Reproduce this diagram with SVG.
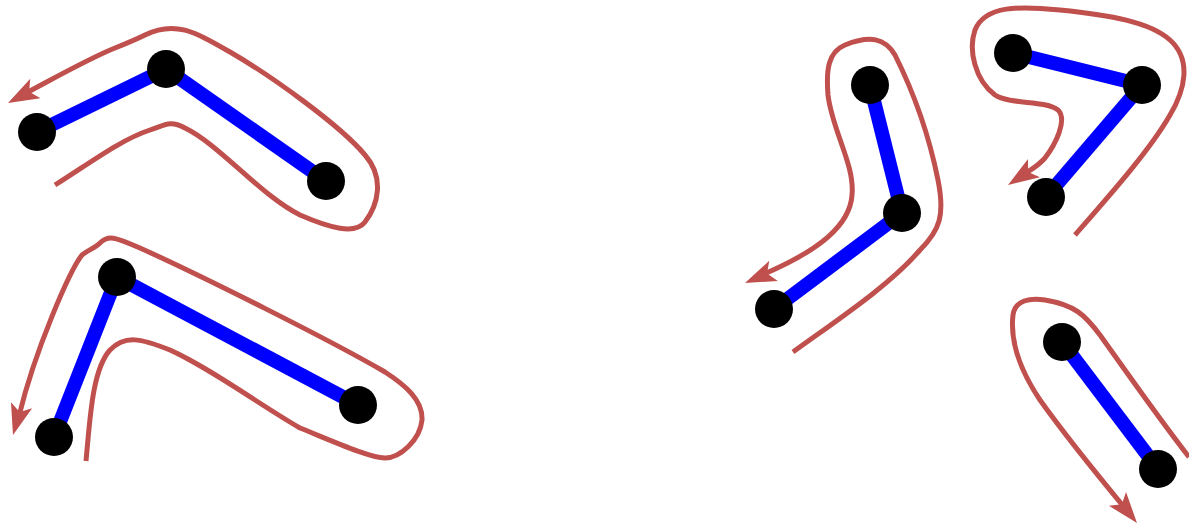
<svg xmlns="http://www.w3.org/2000/svg" width="1189" height="526" viewBox="0 0 1189 526">
<style>
.edge{stroke:#0000FF;stroke-width:14;fill:none}
.walk{stroke:#C0504D;stroke-width:5;fill:none}
.head{fill:#C0504D}
.node{fill:#000}
</style>
<defs>
<path id="ah" class="head" d="M0,0 L-31,-11 L-24,0 L-31,11 Z"/>
</defs>
<rect width="1189" height="526" fill="#fff"/>
<g id="connectors">
<line class="edge" x1="37" y1="132" x2="166" y2="69"/>
<line class="edge" x1="166" y1="69" x2="326" y2="181"/>
<line class="edge" x1="117" y1="277" x2="358" y2="405"/>
<line class="edge" x1="117" y1="277" x2="54" y2="437"/>
<line class="edge" x1="870" y1="85" x2="902" y2="213"/>
<line class="edge" x1="902" y1="213" x2="774" y2="309"/>
<line class="edge" x1="1013" y1="53" x2="1142" y2="85"/>
<line class="edge" x1="1142" y1="85" x2="1046" y2="197"/>
<line class="edge" x1="1062" y1="342" x2="1158" y2="469"/>
</g>
<g id="walks">
<path class="walk" d="M55,185 C90,163 120,140 150,130 C165,125 170,120 185,128 C220,145 260,195 300,215 C330,228 355,235 365,222 C378,205 385,178 365,155 C340,125 270,75 230,52 C195,32 175,20 145,35 C135,40 125,44 115,48 C90,58 60,75 25.5,93.3"/>
<use href="#ah" transform="translate(8,103) rotate(152)"/>
<path class="walk" d="M86,461 C90,420 92,370 110,350 C125,335 140,338 170,350 C210,368 260,405 300,428 C330,440 370,458 385,458 C400,458 420,440 422,420 C423,400 405,385 385,372 C330,340 200,275 140,248 C120,240 110,233 100,243 C95,248 88,250 82,255 C70,270 35,350 19,416"/>
<use href="#ah" transform="translate(13,435) rotate(106)"/>
<path class="walk" d="M793,352 C840,318 890,285 920,250 C940,230 945,215 938,180 C930,140 915,95 895,55 C885,38 870,35 845,45 C828,52 826,70 828,95 C832,130 855,165 852,195 C850,225 820,250 763,274.5"/>
<use href="#ah" transform="translate(745,283) rotate(157)"/>
<path class="walk" d="M1075,235 C1110,195 1150,150 1170,115 C1185,90 1192,60 1170,40 C1150,22 1110,15 1060,10 C1020,6 985,5 975,30 C968,50 975,80 995,95 C1010,105 1045,100 1058,110 C1068,120 1055,145 1045,158 C1038,166 1032,169 1024.6,173.8"/>
<use href="#ah" transform="translate(1008,185) rotate(147)"/>
<path class="walk" d="M1189,457 C1160,420 1125,370 1100,335 C1085,315 1075,305 1045,300 C1030,298 1015,300 1013,315 C1010,340 1020,370 1040,400 C1065,435 1095,472 1124.4,507.5"/>
<use href="#ah" transform="translate(1137,523) rotate(51)"/>
</g>
<g id="n1"><circle class="node" cx="37" cy="132" r="19"/></g>
<g id="n2"><circle class="node" cx="166" cy="69" r="19"/></g>
<g id="n3"><circle class="node" cx="326" cy="181" r="19"/></g>
<g id="n4"><circle class="node" cx="117" cy="277" r="19"/></g>
<g id="n5"><circle class="node" cx="358" cy="405" r="19"/></g>
<g id="n6"><circle class="node" cx="54" cy="437" r="19"/></g>
<g id="n7"><circle class="node" cx="870" cy="85" r="19"/></g>
<g id="n8"><circle class="node" cx="902" cy="213" r="19"/></g>
<g id="n9"><circle class="node" cx="774" cy="309" r="19"/></g>
<g id="n10"><circle class="node" cx="1013" cy="53" r="19"/></g>
<g id="n11"><circle class="node" cx="1142" cy="85" r="19"/></g>
<g id="n12"><circle class="node" cx="1046" cy="197" r="19"/></g>
<g id="n13"><circle class="node" cx="1062" cy="342" r="19"/></g>
<g id="n14"><circle class="node" cx="1158" cy="469" r="19"/></g>
</svg>
